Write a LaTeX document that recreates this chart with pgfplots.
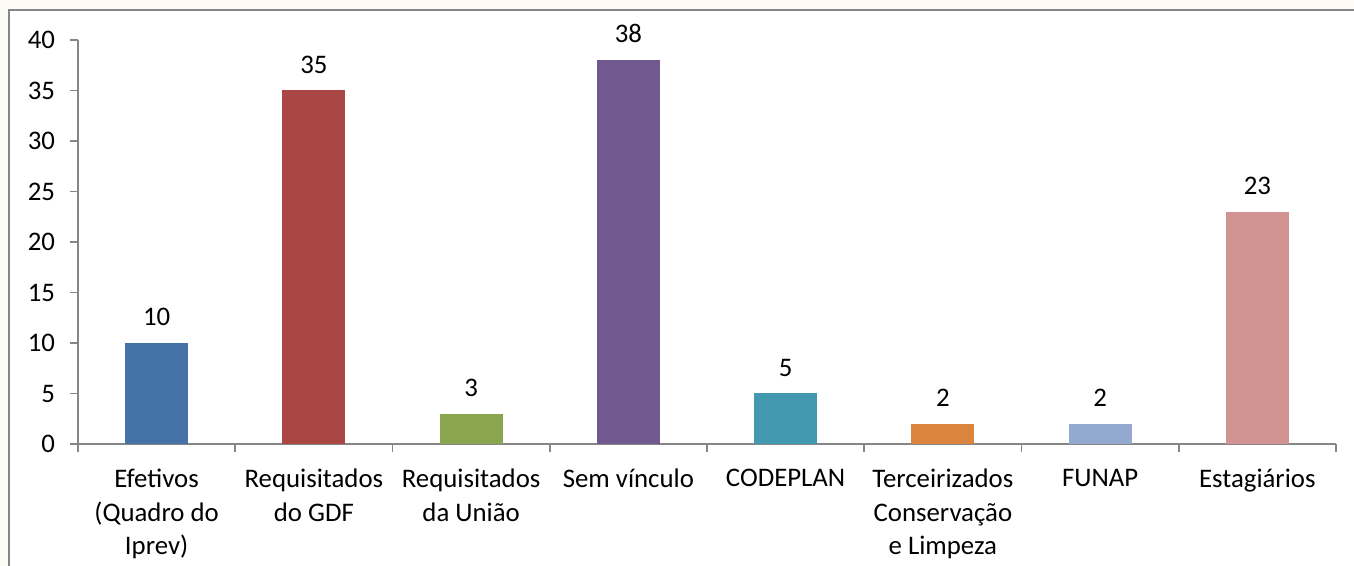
\documentclass[border=0pt]{standalone}
\usepackage{fontspec}
\setmainfont{Carlito}
\usepackage{pgfplots}
\pgfplotsset{compat=1.18}
\definecolor{axgray}{RGB}{134,134,134}
\definecolor{bgcream}{RGB}{253,252,244}
\definecolor{cA}{RGB}{69,114,167}
\definecolor{cB}{RGB}{170,70,67}
\definecolor{cC}{RGB}{137,165,78}
\definecolor{cD}{RGB}{113,88,143}
\definecolor{cE}{RGB}{65,152,175}
\definecolor{cF}{RGB}{219,132,61}
\definecolor{cG}{RGB}{147,169,207}
\definecolor{cH}{RGB}{209,147,146}

\begin{document}
\begin{tikzpicture}
% background and frame (1px = 0.5pt, axis origin at pixel 78,444)
\fill[bgcream] (-39pt,-61pt) rectangle (638pt,222pt);
\fill[white] (-34.5pt,-61pt) rectangle (638pt,217pt);
\draw[axgray, line width=0.8pt] (-34.5pt,-61pt) -- (-34.5pt,217pt) -- (638pt,217pt);
\begin{axis}[
  scale only axis,
  width=629pt, height=202pt,
  xmin=-0.5, xmax=7.5,
  ymin=0, ymax=40,
  axis x line*=bottom, axis y line*=left,
  axis line style={axgray, line width=0.8pt},
  ytick={0,5,...,40},
  xtick={0,...,7},
  xticklabels={{Efetivos\\(Quadro do\\Iprev)},{Requisitados\\do GDF},{Requisitados\\da União},{Sem vínculo},{CODEPLAN},{Terceirizados\\Conservação\\e Limpeza},{FUNAP},{Estagiários}},
  minor xtick={-0.5,0.5,...,7.5},
  major x tick style={draw=none},
  tick align=outside,
  tick style={axgray, line width=0.8pt},
  major tick length=4pt, minor tick length=4pt,
  tick label style={font=\fontsize{13.4}{16.8}\selectfont, text=black},
  xticklabel style={align=center, yshift=-5pt},
  yticklabel style={xshift=-4pt},
  /pgf/number format/assume math mode=true,
  ybar, bar width=31.5pt, bar shift=0pt,
  nodes near coords,
  nodes near coords style={font=\fontsize{13.4}{16}\selectfont, text=black, yshift=5pt},
  clip=false,
]
\addplot[draw=none, fill=cA] coordinates {(0,10)};
\addplot[draw=none, fill=cB] coordinates {(1,35)};
\addplot[draw=none, fill=cC] coordinates {(2,3)};
\addplot[draw=none, fill=cD] coordinates {(3,38)};
\addplot[draw=none, fill=cE] coordinates {(4,5)};
\addplot[draw=none, fill=cF] coordinates {(5,2)};
\addplot[draw=none, fill=cG] coordinates {(6,2)};
\addplot[draw=none, fill=cH] coordinates {(7,23)};
\end{axis}
\pgfresetboundingbox
\path (-39pt,-61pt) rectangle (638pt,222pt);
\end{tikzpicture}
\end{document}
